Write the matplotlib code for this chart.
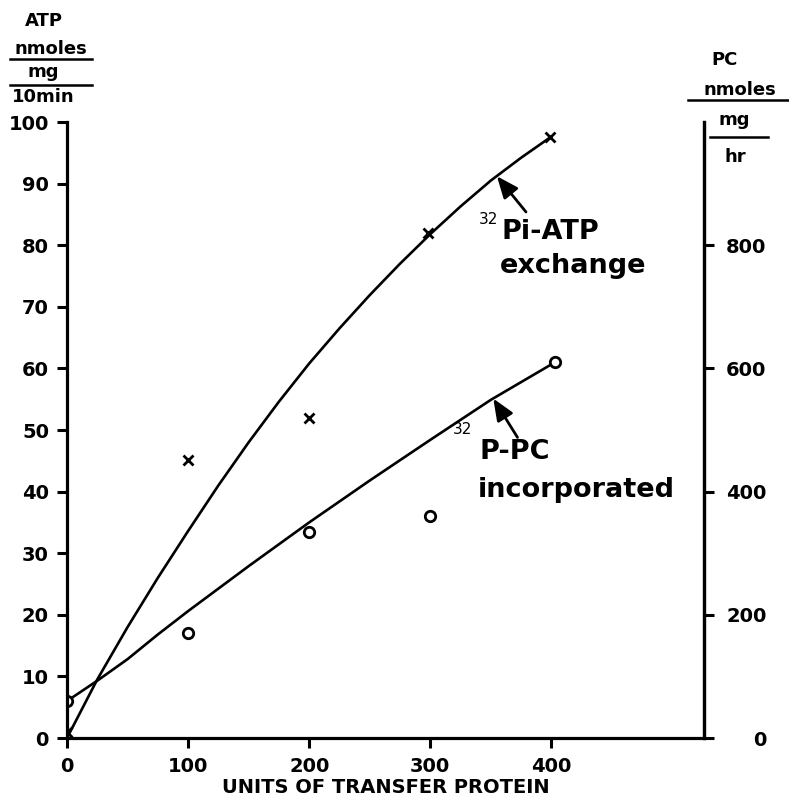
import matplotlib
matplotlib.use("Agg")
import matplotlib.pyplot as plt
from matplotlib.lines import Line2D

plt.rcParams['font.family'] = ['DejaVu Sans']

# ---- data ----
atp_x = [0, 100, 200, 298, 399]
atp_y = [1, 45.2, 52, 82, 97.5]
pc_x = [0, 100, 200, 300, 403]
pc_y = [6, 17, 33.5, 36, 61]

atp_fit_x = [0, 25, 50, 75, 100, 125, 150, 175, 200, 225, 250, 275, 300,
             325, 350, 375, 399]
atp_fit_y = [0, 9.5, 18, 26, 33.6, 41.0, 48.0, 54.6, 60.8, 66.5, 71.9, 77.0,
             81.8, 86.3, 90.5, 94.2, 97.5]
pc_fit_x = [0, 25, 50, 75, 100, 150, 200, 250, 300, 350, 403]
pc_fit_y = [6, 9.3, 12.8, 16.8, 20.6, 27.9, 35, 41.8, 48.4, 54.9, 61]

x_ticks = [0, 100, 200, 300, 400]
left_ticks = [0, 10, 20, 30, 40, 50, 60, 70, 80, 90, 100]
right_ticks = [0, 200, 400, 600, 800]

W, H = 789, 799
fig = plt.figure(figsize=(W / 100, H / 100), dpi=100)
ax = fig.add_axes([67 / W, 1 - 738 / H, (704 - 67) / W, (738 - 122) / H])

LW_SP = 2.3
for s in ['left', 'right', 'bottom']:
    ax.spines[s].set_linewidth(LW_SP)
ax.spines['top'].set_visible(False)

ax.plot(atp_fit_x, atp_fit_y, color='black', lw=1.9, solid_joinstyle='round')
ax.plot(pc_fit_x, pc_fit_y, color='black', lw=1.9, solid_joinstyle='round')
ax.plot(atp_x, atp_y, linestyle='none', marker='x', ms=7, mew=2, color='black')
ax.plot(pc_x, pc_y, linestyle='none', marker='o', ms=7.5, mew=2,
        mfc='white', mec='black')

ax.set_xlim(0, 526)
ax.set_ylim(0, 100)
ax.set_xticks(x_ticks)
ax.set_yticks(left_ticks)
ax.tick_params(axis='both', direction='out', width=2.2, length=7,
               labelsize=14)
ax.tick_params(axis='x', pad=7)
ax.tick_params(axis='y', pad=6)
for lab in ax.get_xticklabels() + ax.get_yticklabels():
    lab.set_fontweight('bold')

ax2 = ax.twinx()
ax2.set_ylim(0, 1000)
ax2.set_yticks(right_ticks)
for s in ['left', 'top', 'bottom']:
    ax2.spines[s].set_visible(False)
ax2.spines['right'].set_linewidth(LW_SP)
ax2.tick_params(axis='y', direction='out', width=2.2, length=7,
                labelsize=14, pad=38)
for lab in ax2.get_yticklabels():
    lab.set_fontweight('bold')
    lab.set_horizontalalignment('right')

ax.set_xlabel('UNITS OF TRANSFER PROTEIN', fontsize=14, fontweight='bold',
              labelpad=1)

# annotations (arrows)
ax.annotate('', xy=(355, 91.2), xytext=(379, 85.4),
            arrowprops=dict(arrowstyle='-|>,head_length=0.6,head_width=0.25',
                            color='black', lw=2,
                            mutation_scale=22, shrinkA=0, shrinkB=0))
ax.annotate('', xy=(352, 55.1), xytext=(372, 48.8),
            arrowprops=dict(arrowstyle='-|>,head_length=0.6,head_width=0.25',
                            color='black', lw=2,
                            mutation_scale=22, shrinkA=0, shrinkB=0))


def ft(x, y, s, **kw):
    fig.text(x / W, 1 - y / H, s, **kw)


big = dict(fontsize=19.5, fontweight='bold', va='center', ha='left')
sup = dict(fontsize=11, va='center', ha='left')
ft(479, 220, '32', **sup)
ft(501, 232, 'Pi-ATP', **big)
ft(500, 266, 'exchange', **big)
ft(453, 430, '32', **sup)
ft(479, 452, 'P-PC', **big)
ft(478, 490, 'incorporated', **big)

hdr = dict(fontsize=13, fontweight='bold', va='center', ha='center')
ft(44, 21, 'ATP', **hdr)
ft(51, 49, 'nmoles', **hdr)
ft(43, 72, 'mg', **hdr)
ft(43, 97, '10min', **hdr)
ft(725, 60, 'PC', **hdr)
ft(740, 90, 'nmoles', **hdr)
ft(734, 120, 'mg', **hdr)
ft(735, 157, 'hr', **hdr)

for (x0, x1, y) in [(10, 92, 59), (10, 92, 85), (688, 788, 100), (710, 768, 137)]:
    fig.add_artist(Line2D([x0 / W, x1 / W], [1 - y / H, 1 - y / H],
                          transform=fig.transFigure, color='black', lw=1.8))

fig.savefig('out.png', dpi=100)
